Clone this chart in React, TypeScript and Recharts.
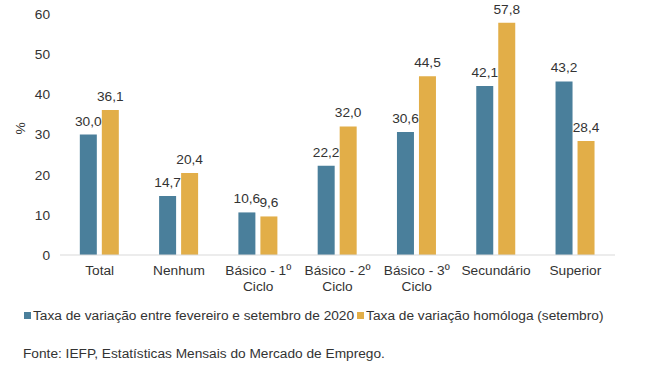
import React from "react"
import { Bar, BarChart, LabelList, XAxis, YAxis } from "recharts"

const categories = [
  "Total",
  "Nenhum",
  "Básico - 1º\nCiclo",
  "Básico - 2º\nCiclo",
  "Básico - 3º\nCiclo",
  "Secundário",
  "Superior",
]
const febSep2020 = [30.0, 14.7, 10.6, 22.2, 30.6, 42.1, 43.2]
const homologa = [36.1, 20.4, 9.6, 32.0, 44.5, 57.8, 28.4]
const yTicks = [0, 10, 20, 30, 40, 50, 60]

const seriesNames = [
  "Taxa de variação entre fevereiro e setembro de 2020",
  "Taxa de variação homóloga (setembro)",
]
const colors = ["#4a7f9b", "#e2ae48"]
const font = "'Liberation Sans', Arial, sans-serif"
const textColor = "#333333"
const fs = 13.7

const rows = categories.map((c, i) => ({
  name: c,
  a: febSep2020[i],
  b: homologa[i],
}))

const fmt = (v: any) => Number(v).toFixed(1).replace(".", ",")

function CatTick(props: any) {
  const { x, y, payload } = props
  const lines = String(payload.value).split("\n")
  return (
    <text x={x} y={y} textAnchor="middle" fill={textColor} fontSize={fs} fontFamily={font}>
      {lines.map((l, i) => (
        <tspan key={i} x={x} dy={i === 0 ? 12 : 16}>
          {l}
        </tspan>
      ))}
    </text>
  )
}

export default function App() {
  return (
    <div style={{ position: "absolute", left: 0, top: 0, width: 665, height: 387, background: "#fff", fontFamily: font }}>
      <BarChart
        width={665}
        height={300}
        data={rows}
        margin={{ top: 14, right: 50, bottom: 0, left: 0 }}
        barCategoryGap="25%"
        barGap={5}
      >
        <XAxis
          dataKey="name"
          height={45}
          tickLine={false}
          axisLine={{ stroke: "#d9d9d9" }}
          tick={<CatTick />}
          interval={0}
        />
        <YAxis
          width={60}
          domain={[0, 60]}
          ticks={yTicks}
          axisLine={false}
          tickLine={false}
          tickMargin={4}
          tick={{ fill: textColor, fontSize: fs, fontFamily: font }}
          label={{ value: "%", angle: -90, position: "insideLeft", offset: 20, fill: textColor, fontSize: fs, fontFamily: font }}
        />
        <Bar dataKey="a" name={seriesNames[0]} fill={colors[0]} isAnimationActive={false}>
          <LabelList dataKey="a" position="top" offset={9} formatter={fmt} fill={textColor} fontSize={fs} fontFamily={font} />
        </Bar>
        <Bar dataKey="b" name={seriesNames[1]} fill={colors[1]} isAnimationActive={false}>
          <LabelList dataKey="b" position="top" offset={9} formatter={fmt} fill={textColor} fontSize={fs} fontFamily={font} />
        </Bar>
      </BarChart>
      <div style={{ position: "absolute", left: 24, top: 308, display: "flex", alignItems: "center", fontSize: fs, color: textColor, whiteSpace: "nowrap" }}>
        {seriesNames.map((n, i) => (
          <span key={n} style={{ display: "flex", alignItems: "center", marginRight: 3 }}>
            <span style={{ width: 7, height: 7, background: colors[i], marginRight: 2, display: "inline-block" }} />
            {n}
          </span>
        ))}
      </div>
      <div style={{ position: "absolute", left: 23, top: 346, fontSize: fs, color: textColor, whiteSpace: "nowrap" }}>
        Fonte: IEFP, Estatísticas Mensais do Mercado de Emprego.
      </div>
    </div>
  )
}
